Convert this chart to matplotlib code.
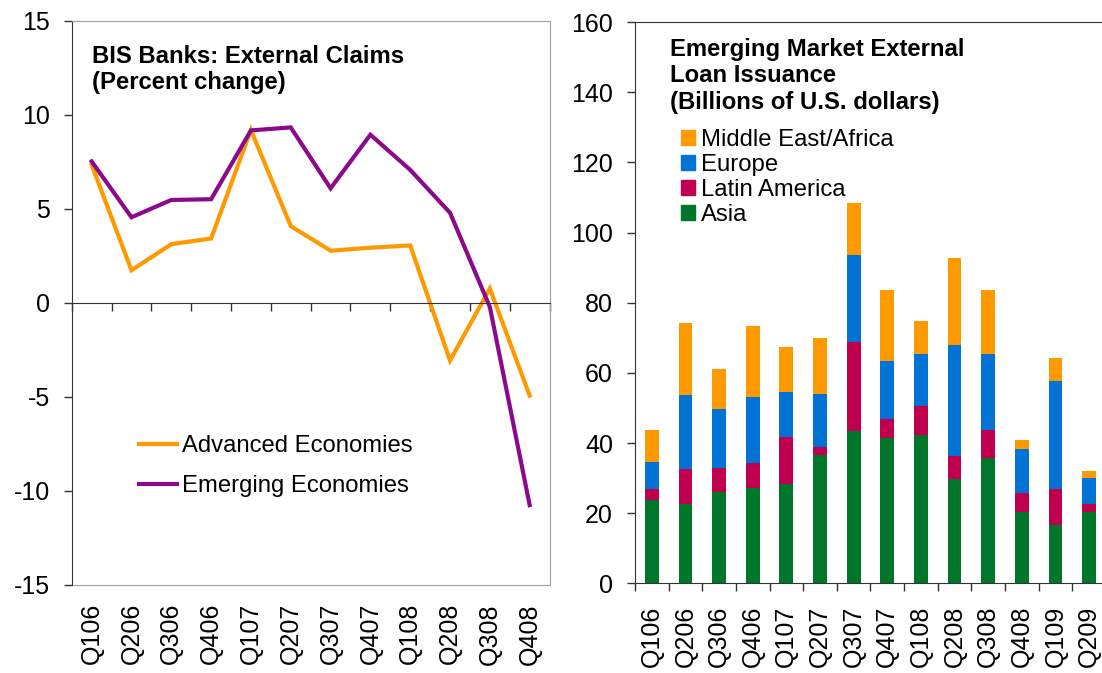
import numpy as np
import matplotlib
matplotlib.use("Agg")
import matplotlib.pyplot as plt
from matplotlib.patches import Patch

plt.rcParams['font.family'] = ['Liberation Sans', 'DejaVu Sans']
plt.rcParams['axes.unicode_minus'] = False

# ---- Left chart data ----
quarters_left = ["Q106", "Q206", "Q306", "Q406", "Q107", "Q207", "Q307", "Q407",
                 "Q108", "Q208", "Q308", "Q408"]
advanced = [7.35, 1.74, 3.13, 3.43, 9.2, 4.09, 2.78, 2.94, 3.06, -3.06, 0.77, -4.93]
emerging = [7.53, 4.56, 5.48, 5.52, 9.18, 9.34, 6.1, 8.95, 7.08, 4.8, -0.21, -10.75]

# ---- Right chart data (billions of US dollars) ----
quarters_right = ["Q106", "Q206", "Q306", "Q406", "Q107", "Q207", "Q307", "Q407",
                  "Q108", "Q208", "Q308", "Q408", "Q109", "Q209"]
asia = [23.7, 22.7, 26.1, 27.3, 28.4, 36.6, 43.4, 41.5, 42.3, 29.7, 35.8, 20.4, 16.6, 20.4]
latam = [3.1, 9.9, 6.9, 7.0, 13.3, 2.2, 25.4, 5.3, 8.3, 6.6, 8.0, 5.3, 10.3, 2.3]
europe = [7.8, 21.1, 16.7, 18.8, 12.8, 15.1, 24.7, 16.5, 14.7, 31.6, 21.5, 12.6, 30.7, 7.3]
mea = [9.1, 20.5, 11.4, 20.2, 12.8, 16.0, 14.9, 20.3, 9.4, 24.8, 18.3, 2.5, 6.6, 2.0]

ORANGE = "#FF9900"
PURPLE = "#8B0A8B"
BLUE = "#0073D4"
RED = "#C0004E"
GREEN = "#00762A"
DARK = "#333333"
GRAY = "#A0A0A0"
FS_TICK = 18
FS = 17.2

fig = plt.figure(figsize=(11.02, 6.73), dpi=100)

# ================= Left chart =================
ax1 = fig.add_axes([0.0651, 0.1308, 0.4336, 0.838])
x1 = np.arange(len(quarters_left))
ax1.plot(x1, advanced, color=ORANGE, lw=3, label="Advanced Economies", solid_joinstyle='miter')
ax1.plot(x1, emerging, color=PURPLE, lw=3, label="Emerging Economies", solid_joinstyle='miter')
ax1.set_xlim(-0.5, len(quarters_left) - 0.5)
ax1.set_ylim(-15, 15)
ax1.set_yticks([-15, -10, -5, 0, 5, 10, 15])
ax1.tick_params(axis='y', direction='out', length=5.8, width=1, color=DARK,
                labelsize=FS_TICK, pad=10)
ax1.spines['bottom'].set_position(('data', 0))
ax1.spines['bottom'].set_color(DARK)
ax1.set_xticks(np.arange(-0.5, len(quarters_left), 1))
ax1.set_xticklabels([])
ax1.tick_params(axis='x', direction='out', length=5.8, width=1, color=DARK)
ax1.spines['left'].set_color(DARK)
for s in ['top', 'right']:
    ax1.spines[s].set_color(GRAY)
sec1 = ax1.secondary_xaxis(0.0)
sec1.set_xticks(x1)
sec1.set_xticklabels(quarters_left, rotation=90, fontsize=FS_TICK)
sec1.tick_params(length=0, pad=13)
sec1.spines['bottom'].set_color(GRAY)

ax1.text(0.0425, 0.957, "BIS Banks: External Claims\n(Percent change)", transform=ax1.transAxes,
         ha='left', va='top', fontsize=FS, fontweight='bold', linespacing=1.15)
ax1.legend(loc='upper left', bbox_to_anchor=(0.14, 0.266), frameon=False, fontsize=FS,
           handlelength=1.6, handletextpad=0.2, labelspacing=0.75, borderpad=0, borderaxespad=0)

# ================= Right chart =================
ax2 = fig.add_axes([0.5762, 0.133, 0.4274, 0.8343])
x2 = np.arange(len(quarters_right))
w = 0.41
b1 = np.array(asia)
b2 = b1 + np.array(latam)
b3 = b2 + np.array(europe)
ax2.bar(x2, asia, width=w, color=GREEN)
ax2.bar(x2, latam, width=w, bottom=b1, color=RED)
ax2.bar(x2, europe, width=w, bottom=b2, color=BLUE)
ax2.bar(x2, mea, width=w, bottom=b3, color=ORANGE)
ax2.set_xlim(-0.5, len(quarters_right) - 0.5)
ax2.set_ylim(0, 160)
ax2.set_yticks(np.arange(0, 161, 20))
ax2.tick_params(axis='y', direction='out', length=5.8, width=1, color=DARK,
                labelsize=FS_TICK, pad=10)
ax2.set_xticks(np.arange(-0.5, len(quarters_right), 1))
ax2.set_xticklabels([])
ax2.tick_params(axis='x', direction='out', length=5.8, width=1, color=DARK)
ax2.set_xticks(x2, minor=True)
ax2.set_xticklabels(quarters_right, minor=True, rotation=90, fontsize=FS_TICK)
ax2.tick_params(axis='x', which='minor', length=0, pad=16)
for s in ['left', 'bottom', 'top', 'right']:
    ax2.spines[s].set_color(DARK)

ax2.text(0.0743, 0.972, "Emerging Market External\nLoan Issuance\n(Billions of U.S. dollars)",
         transform=ax2.transAxes, ha='left', va='top', fontsize=FS, fontweight='bold',
         linespacing=1.2)
handles = [Patch(color=ORANGE, label="Middle East/Africa"),
           Patch(color=BLUE, label="Europe"),
           Patch(color=RED, label="Latin America"),
           Patch(color=GREEN, label="Asia")]
ax2.legend(handles=handles, loc='upper left', bbox_to_anchor=(0.097, 0.81), frameon=False,
           fontsize=FS, handlelength=0.62, handleheight=0.62, handletextpad=0.25,
           labelspacing=0.13, borderpad=0, borderaxespad=0)

fig.savefig("out.png", dpi=100)
